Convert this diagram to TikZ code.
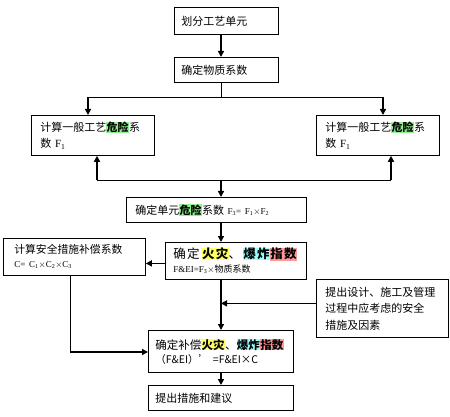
\documentclass[tikz,border=0pt]{standalone}
\usepackage{fontspec}
\setmainfont{Liberation Serif}
\newfontfamily\cjk{Noto Sans CJK SC}
\usetikzlibrary{arrows.meta,positioning,calc}
\definecolor{hlgreen}{RGB}{144,240,144}
\definecolor{hlyellow}{RGB}{255,255,102}
\definecolor{hlcyan}{RGB}{153,255,255}
\definecolor{hlred}{RGB}{255,153,153}
\newcommand{\hlbox}[2]{{\setlength{\fboxsep}{0.3pt}\colorbox{#1}{\bfseries #2}}}

\begin{document}
\begin{tikzpicture}[x=1pt, y=-1pt,
    box/.style={draw, line width=0.8pt, anchor=north west, align=left,
                inner xsep=7pt, inner ysep=0pt,
                font=\cjk\fontsize{11}{16}\selectfont},
    arr/.style={line width=1.4pt, -{Triangle[length=6pt,width=6pt]}},
    link/.style={line width=0.8pt}]
\useasboundingbox (0,0) rectangle (450,417);
%
\node[box, text width=90pt, minimum height=27pt] (unit) at (174,7) {划分工艺单元};
\node[box, text width=90pt, minimum height=25pt] (mat) at (174,57) {确定物质系数};
\node[box, inner xsep=9pt, text width=105pt, minimum height=40pt] (gl) at (31,115)
  {计算一般工艺\hlbox{hlgreen}{危险}系\\数 {\rmfamily F\textsubscript{1}}};
\node[box, inner xsep=9pt, text width=105pt, minimum height=40pt] (gr) at (316,115)
  {计算一般工艺\hlbox{hlgreen}{危险}系\\数 {\rmfamily F\textsubscript{1}}};
\node[box, inner xsep=9pt, text width=162pt, minimum height=25pt] (f3) at (126,197)
  {确定单元\hlbox{hlgreen}{危险}系数 {\rmfamily\small F\textsubscript{3}= F\textsubscript{1}$\times$F\textsubscript{2}}};
\node[box, inner xsep=8pt, text width=125pt, minimum height=37pt,
      font=\cjk\fontsize{12.5}{16}\selectfont\addfontfeatures{LetterSpace=10}] (fei) at (165,242)
  {确定\,\hlbox{hlyellow}{火灾}、\,\hlbox{hlcyan}{爆炸}\hlbox{hlred}{指数}\\[-2pt]
   {\rmfamily\small F\&EI=F\textsubscript{3}$\times$}{\cjk\small 物质系数}};
\node[box, inner xsep=11pt, text width=120pt, minimum height=37pt,
      font=\cjk\fontsize{10.8}{16}\selectfont] (comp) at (3,238)
  {计算安全措施补偿系数\\[-2pt]
   {\rmfamily\small C= C\textsubscript{1}$\times$C\textsubscript{2}$\times$C\textsubscript{3}}};
\node[box, inner xsep=9pt, text width=114pt, minimum height=58pt,
      font=\cjk\fontsize{11}{16.5}\selectfont] (meas) at (316,279)
  {提出设计、施工及管理\\过程中应考虑的安全\\措施及因素};
\node[box, inner xsep=7pt, text width=131pt, minimum height=42pt,
      font=\cjk\fontsize{11.5}{16}\selectfont] (fei2) at (148,330)
  {确定补偿\hlbox{hlyellow}{火灾}、\hlbox{hlcyan}{爆炸}\hlbox{hlred}{指数}\\[-2pt]
   {\fontsize{10.5}{14}\selectfont （F\&EI）’ =F\&EI×C}};
\node[box, text width=131pt, minimum height=25pt] (sug) at (148,385) {提出措施和建议};
%
\coordinate (spine) at (221,0);
\coordinate (split) at (221,97);
\coordinate (splitl) at (88,97);
\coordinate (splitr) at (383,97);
\coordinate (join) at (221,180);
\coordinate (joinl) at (97,180);
\coordinate (joinr) at (391,180);
\coordinate (bend) at (70,352);
%
\draw[arr] (unit.south -| spine) -- (mat.north -| spine);
\draw[link] (mat.south -| spine) -- (split);
\draw[link] (splitl) -- (splitr);
\draw[arr] (splitl) -- (splitl |- gl.north);
\draw[arr] (splitr) -- (splitr |- gr.north);
\draw[link] (joinl) -- (joinr);
\draw[arr] (joinl) -- (joinl |- gl.south);
\draw[arr] (joinr) -- (joinr |- gr.south);
\draw[arr] (join) -- (join |- f3.north);
\draw[arr] (f3.south -| spine) -- (fei.north -| spine);
\draw[arr] ([yshift=-2.5pt]fei.west) -- ([yshift=-2.5pt]fei.west -| comp.east);
\draw[link] (comp.south -| bend) -- (bend);
\draw[arr] (bend) -- (bend -| fei2.west);
\draw[arr] ([yshift=5pt]meas.west) -- ([yshift=5pt]meas.west -| spine);
\draw[arr] (fei.south -| spine) -- (fei2.north -| spine);
\draw[arr] (fei2.south -| spine) -- (sug.north -| spine);
\end{tikzpicture}
\end{document}
